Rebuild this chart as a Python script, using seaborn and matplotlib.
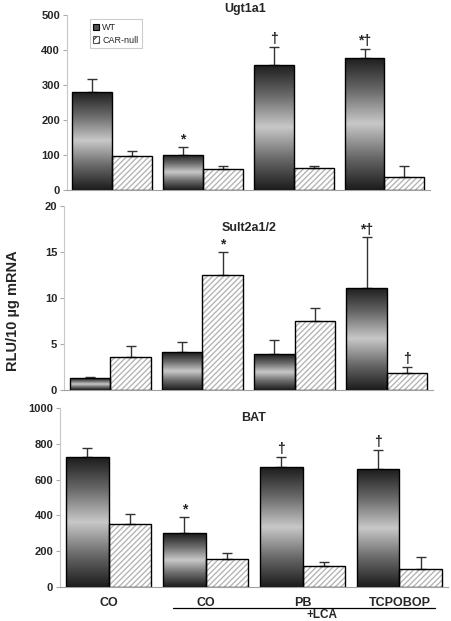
import numpy as np
import pandas as pd
import matplotlib
matplotlib.use("Agg")
import matplotlib.pyplot as plt
from matplotlib.colors import LinearSegmentedColormap
from matplotlib.patches import Rectangle, Patch
from matplotlib.lines import Line2D
import seaborn as sns

# ---- data ----
groups = ["CO", "LCA_CO", "LCA_PB", "LCA_TCPOBOP"]
group_labels = ["CO", "CO", "PB", "TCPOBOP"]
genotypes = ["WT", "CAR-null"]

ugt_wt = [280, 100, 358, 377]
ugt_wt_err = [38, 22, 50, 26]
ugt_null = [98, 60, 64, 36]
ugt_null_err = [12, 8, 6, 34]
ugt_marks_wt = ["", "*", "†", "*†"]
ugt_marks_null = ["", "", "", ""]

sult_wt = [1.3, 4.1, 3.9, 11.1]
sult_wt_err = [0.15, 1.1, 1.5, 5.5]
sult_null = [3.6, 12.5, 7.5, 1.9]
sult_null_err = [1.15, 2.5, 1.4, 0.6]
sult_marks_wt = ["", "", "", "*†"]
sult_marks_null = ["", "*", "", "†"]

bat_wt = [725, 301, 670, 657]
bat_wt_err = [52, 89, 55, 107]
bat_null = [354, 154, 114, 101]
bat_null_err = [56, 35, 26, 68]
bat_marks_wt = ["", "*", "†", "†"]
bat_marks_null = ["", "", "", ""]

panels = [
    ("Ugt1a1", ugt_wt, ugt_wt_err, ugt_null, ugt_null_err, ugt_marks_wt, ugt_marks_null, 500, 100),
    ("Sult2a1/2", sult_wt, sult_wt_err, sult_null, sult_null_err, sult_marks_wt, sult_marks_null, 20, 5),
    ("BAT", bat_wt, bat_wt_err, bat_null, bat_null_err, bat_marks_wt, bat_marks_null, 1000, 200),
]

sns.set_style("white")
plt.rcParams["font.family"] = ["Liberation Sans", "DejaVu Sans"]

fig = plt.figure(figsize=(4.52, 6.21), dpi=100)
rects = [
    [0.148, 0.694, 0.803, 0.282],
    [0.142, 0.372, 0.816, 0.296],
    [0.133, 0.055, 0.858, 0.288],
]
title_pos = [(0.49, 1.035), (0.50, 0.88), (0.50, 0.945)]

grad_cmap = LinearSegmentedColormap.from_list(
    "wtgrad", ["#1c1c1c", "#6a6a6a", "#c8c8c8", "#6a6a6a", "#1c1c1c"])
grad = np.linspace(0, 1, 256).reshape(-1, 1)

axes = []
for i, (title, wt, wt_err, nul, nul_err, mk_wt, mk_nul, ymax, ystep) in enumerate(panels):
    ax = fig.add_axes(rects[i])
    axes.append(ax)
    df = pd.DataFrame({
        "group": groups * 2,
        "genotype": [genotypes[0]] * 4 + [genotypes[1]] * 4,
        "value": list(wt) + list(nul),
    })
    sns.barplot(data=df, x="group", y="value", hue="genotype", order=groups,
                hue_order=genotypes, errorbar=None, width=0.88, ax=ax,
                legend=False, saturation=1)

    errs = [wt_err, nul_err]
    marks = [mk_wt, mk_nul]
    bar_conts = list(ax.containers)[:2]
    for h, cont in enumerate(bar_conts):
        for j, bar in enumerate(list(cont)):
            x, y0 = bar.get_x(), bar.get_y()
            w, hgt = bar.get_width(), bar.get_height()
            if h == 0:
                bar.set_facecolor("none")
                bar.set_edgecolor("black")
                bar.set_linewidth(1.0)
                im = ax.imshow(grad, extent=[x, x + w, y0, y0 + hgt],
                               aspect="auto", cmap=grad_cmap, origin="lower",
                               zorder=1.5, interpolation="bilinear")
                im.set_clip_path(bar)
                bar.set_zorder(2)
            else:
                bar.set_facecolor("white")
                bar.set_edgecolor("#b5b5b5")
                bar.set_hatch("//////")
                bar.set_linewidth(0)
                ax.add_patch(Rectangle((x, y0), w, hgt, fill=False,
                                       edgecolor="black", lw=1.0, zorder=2.5))
            cx = x + w / 2
            top = y0 + hgt
            e = errs[h][j]
            ax.errorbar(cx, top, yerr=[[0], [e]], fmt="none", ecolor="#333333",
                        elinewidth=1.0, capsize=3.5, capthick=1.0, zorder=1.2)
            if marks[h][j]:
                ax.text(cx, top + e + ymax * 0.005, marks[h][j], ha="center",
                        va="bottom", fontsize=10, fontweight="bold", zorder=4)

    ax.set_xlim(-0.5, 3.5)
    ax.set_ylim(0, ymax)
    ax.set_yticks(np.arange(0, ymax + ystep / 2, ystep))
    ax.set_yticklabels([f"{v:g}" for v in np.arange(0, ymax + ystep / 2, ystep)],
                       fontsize=8, fontweight="bold")
    ax.tick_params(axis="y", length=3, color="#aaaaaa", pad=2, left=True)
    ax.set_xticks([])
    ax.set_xlabel("")
    ax.set_ylabel("")
    sns.despine(ax=ax)
    ax.spines["left"].set_color("#c8c8c8")
    ax.spines["bottom"].set_color("#a0a0a0")
    ax.text(title_pos[i][0], title_pos[i][1], title, transform=ax.transAxes,
            ha="center", va="center", fontsize=9, fontweight="bold")

# legend in the top panel
handles = [
    Patch(facecolor="#505050", edgecolor="black", lw=0.8, label="WT"),
    Patch(facecolor="white", edgecolor="#555555", hatch="////", lw=0.8, label="CAR-null"),
]
leg = axes[0].legend(handles=handles, loc="upper left", bbox_to_anchor=(0.05, 1.0),
                     fontsize=6.5, handlelength=0.7, handleheight=0.7,
                     handletextpad=0.3, borderpad=0.4, labelspacing=0.4,
                     fancybox=False, framealpha=1)
leg.get_frame().set_edgecolor("#cccccc")
leg.get_frame().set_linewidth(0.8)

# group labels under the bottom panel
ax3 = axes[2]
ax3.set_xticks(range(len(groups)))
ax3.set_xticklabels(group_labels, fontsize=9, fontweight="bold")
ax3.tick_params(axis="x", length=0, pad=7)
trans = ax3.get_xaxis_transform()
ax3.add_line(Line2D([0.66, 3.37], [-0.118, -0.118], transform=trans,
                    color="black", lw=0.9, clip_on=False))
ax3.text(2.2, -0.155, "+LCA", transform=trans, ha="center", va="center",
         fontsize=8.5, fontweight="bold")

fig.text(0.028, 0.5, "RLU/10 \u00b5g mRNA", rotation=90, ha="center", va="center",
         fontsize=10.5, fontweight="bold")

fig.savefig("out.png", dpi=100)
